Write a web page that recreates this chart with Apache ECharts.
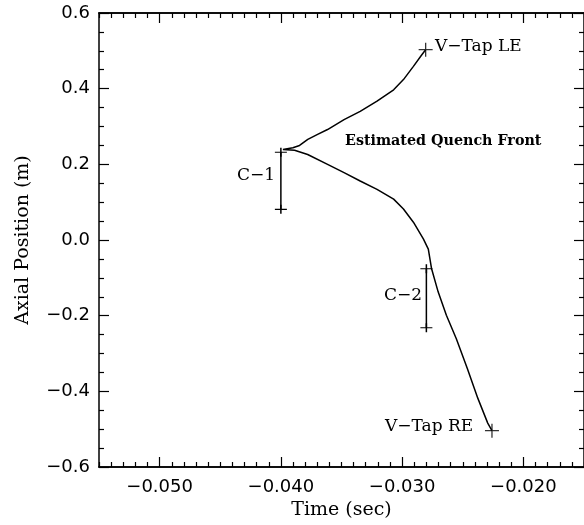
<!DOCTYPE html>
<html>
<head>
<meta charset="utf-8">
<script src="https://cdn.jsdelivr.net/npm/echarts@6/dist/echarts.min.js"></script>
<style>
html,body{margin:0;padding:0;background:#fff;}
#c{width:584px;height:525px;}
</style>
</head>
<body>
<div id="c"></div>
<script>
// ---- data ----
var xMajorTicks = [-0.05, -0.04, -0.03, -0.02];
var yMajorTicks = [-0.6, -0.4, -0.2, 0.0, 0.2, 0.4, 0.6];
// Estimated quench front path: from V-Tap LE to the apex, then down to V-Tap RE
var frontTime = [-0.02806, -0.02839, -0.02907, -0.02989, -0.03070, -0.03207, -0.03346, -0.03479, -0.03615, -0.03697, -0.03778, -0.03846, -0.03901, -0.03983,
                 -0.03969, -0.03887, -0.03779, -0.03615, -0.03479, -0.03346, -0.03207, -0.03070, -0.02989, -0.02907, -0.02825, -0.02784, -0.02757, -0.02703, -0.02635, -0.02553, -0.02463, -0.02376, -0.02294, -0.02259];
var frontPos  = [0.503, 0.489, 0.459, 0.424, 0.397, 0.367, 0.340, 0.318, 0.292, 0.279, 0.266, 0.250, 0.244, 0.2395,
                 0.238, 0.237, 0.226, 0.200, 0.178, 0.156, 0.134, 0.108, 0.082, 0.047, 0.003, -0.024, -0.076, -0.137, -0.199, -0.261, -0.339, -0.418, -0.484, -0.504];
var vtapNames = ['V\u2212Tap LE', 'V\u2212Tap RE'];
var vtapTime = [-0.02806, -0.02259];
var vtapPos = [0.503, -0.504];
var c1Time = -0.0400, c1Range = [0.081, 0.232];
var c2Time = -0.0280, c2Range = [-0.232, -0.076];

var xMin = -0.055, xMax = -0.015, yMin = -0.6, yMax = 0.6;
var xMinorTicks = [];
for (var i = -55; i <= -15; i++) { if (i % 10 !== 0) xMinorTicks.push(i / 1000); }

var frontData = frontTime.map(function (t, k) { return [t, frontPos[k]]; });
var vtapData = vtapTime.map(function (t, k) { return [t, vtapPos[k]]; });

var plus = 'path://M0,50H100M50,0V100';
var tickFont = {fontFamily: 'DejaVu Sans', fontSize: 18, color: '#000'};
var titleFont = {fontFamily: 'DejaVu Serif', fontSize: 19, color: '#000'};
var axLine = {show: true, onZero: false, lineStyle: {color: '#000', width: 1.5}};

function xAx(pos, major, labels) {
  return {
    type: 'value', position: pos, min: xMin, max: xMax,
    axisLine: axLine,
    axisTick: {show: true, inside: true, length: major ? 10 : 5, customValues: major ? xMajorTicks : xMinorTicks, lineStyle: {color: '#000', width: 1.2}},
    axisLabel: labels ? Object.assign({show: true, customValues: xMajorTicks, margin: 11, formatter: function (v) { return v < 0 ? '\u2212' + Math.abs(v).toFixed(3) : v.toFixed(3); }}, tickFont) : {show: false},
    splitLine: {show: false},
    name: labels ? 'Time (sec)' : '', nameLocation: 'middle', nameGap: 34, nameTextStyle: titleFont
  };
}
function yAx(pos, labels) {
  return {
    type: 'value', position: pos, min: yMin, max: yMax, interval: 0.2,
    axisLine: axLine,
    axisTick: {show: true, inside: true, length: 10, lineStyle: {color: '#000', width: 1.2}},
    minorTick: {show: true, splitNumber: 4, length: 5, lineStyle: {color: '#000', width: 1.2}},
    axisLabel: labels ? Object.assign({show: true, margin: 9, formatter: function (v) { var s = Math.abs(v).toFixed(1); return v < -1e-9 ? '\u2212' + s : s; }}, tickFont) : {show: false},
    splitLine: {show: false}, minorSplitLine: {show: false},
    name: labels ? 'Axial Position (m)' : '', nameLocation: 'middle', nameGap: 66, nameRotate: 90, nameTextStyle: titleFont
  };
}

var chart = echarts.init(document.getElementById('c'), null, {renderer: 'canvas'});
var annFont = 'DejaVu Serif';
chart.setOption({
  animation: false,
  backgroundColor: '#fff',
  grid: {left: 99, top: 13, width: 490, height: 456, containLabel: false},
  xAxis: [xAx('bottom', true, true), xAx('bottom', false, false), xAx('top', true, false), xAx('top', false, false)],
  yAxis: [yAx('left', true), yAx('right', false)],
  series: [
    {type: 'line', data: frontData, showSymbol: false, smooth: false, lineStyle: {color: '#000', width: 1.5}, z: 3},
    {type: 'line', data: [[c1Time, c1Range[0]], [c1Time, c1Range[1]]], symbol: plus, symbolSize: [12, 9], showSymbol: true,
     itemStyle: {color: 'rgba(0,0,0,0)', borderColor: '#000', borderWidth: 1.3}, lineStyle: {color: '#000', width: 1.5}},
    {type: 'line', data: [[c2Time, c2Range[0]], [c2Time, c2Range[1]]], symbol: plus, symbolSize: [12, 9], showSymbol: true,
     itemStyle: {color: 'rgba(0,0,0,0)', borderColor: '#000', borderWidth: 1.3}, lineStyle: {color: '#000', width: 1.5}},
    {type: 'scatter', data: vtapData, symbol: plus, symbolSize: 14,
     itemStyle: {color: 'rgba(0,0,0,0)', borderColor: '#000', borderWidth: 1.3}, z: 4}
  ],
  graphic: [
    {type: 'text', left: 435, top: 38, style: {text: vtapNames[0], font: '17px "' + annFont + '"', fill: '#000'}},
    {type: 'text', left: 385, top: 418, style: {text: vtapNames[1], font: '17px "' + annFont + '"', fill: '#000'}},
    {type: 'text', left: 345, top: 134, style: {text: 'Estimated Quench Front', font: 'bold 14.3px "' + annFont + '"', fill: '#000'}},
    {type: 'text', left: 237, top: 167, style: {text: 'C\u22121', font: '17px "' + annFont + '"', fill: '#000'}},
    {type: 'text', left: 384, top: 287, style: {text: 'C\u22122', font: '17px "' + annFont + '"', fill: '#000'}}
  ]
});
</script>
</body>
</html>
